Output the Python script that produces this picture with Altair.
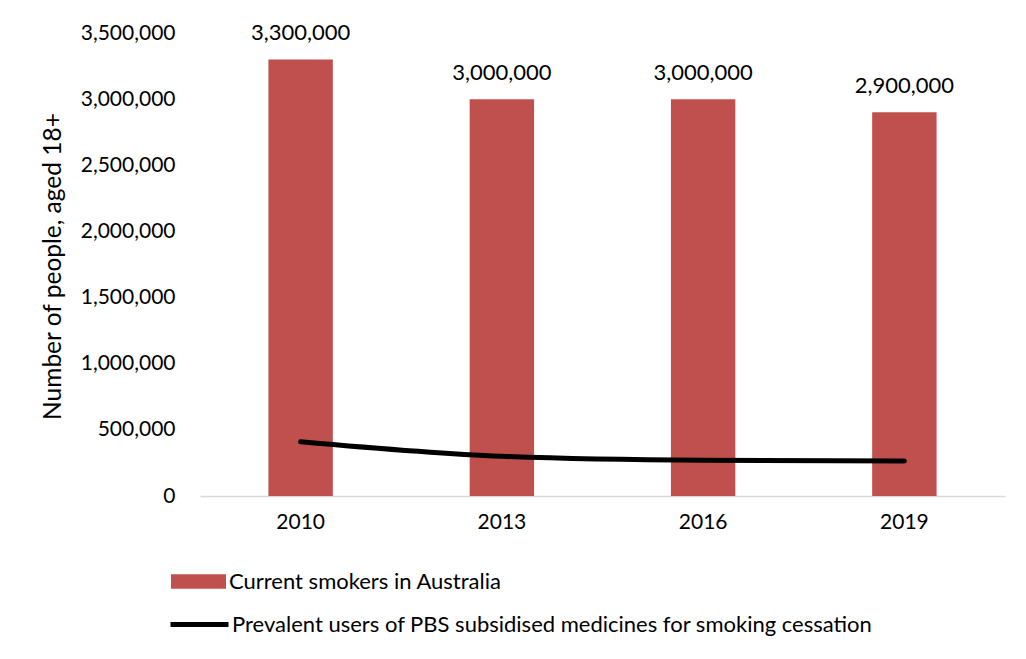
import altair as alt
import pandas as pd

years = ["2010", "2013", "2016", "2019"]
smokers = [3300000, 3000000, 3000000, 2900000]
pbs_users = [410000, 300000, 270000, 265000]
y_ticks = [0, 500000, 1000000, 1500000, 2000000, 2500000, 3000000, 3500000]

bar_name = "Current smokers in Australia"
line_name = "Prevalent users of PBS subsidised medicines for smoking cessation"

bars_df = pd.DataFrame({"year": years, "value": smokers, "series": bar_name})
line_df = pd.DataFrame({"year": years, "value": pbs_users, "series": line_name})

FONT = "Lato"

x_enc = alt.X(
    "year:O",
    title=None,
    scale=alt.Scale(paddingInner=0.68, paddingOuter=0.34),
    axis=alt.Axis(
        labelAngle=0, ticks=False, domainColor="#d9d9d9", domainWidth=1.5,
        labelFontSize=21, labelPadding=15, labelColor="#000000", labelFont=FONT,
    ),
)
y_enc = alt.Y(
    "value:Q",
    title="Number of people, aged 18+",
    scale=alt.Scale(domain=[0, 3500000], nice=False),
    axis=alt.Axis(
        values=y_ticks, format=",.0f", grid=False, ticks=False, domain=False,
        labelFontSize=21, labelPadding=25, labelColor="#000000", labelFont=FONT,
        titleFontSize=24.5, titleFontWeight="normal", titleColor="#000000", titleFont=FONT,
        titleX=-147, titleY=233, titleAngle=270, titleAlign="center", titleBaseline="middle",
    ),
)

bars = alt.Chart(bars_df).mark_bar().encode(
    x=x_enc,
    y=y_enc,
    fill=alt.Fill(
        "series:N",
        scale=alt.Scale(domain=[bar_name], range=["#c0504d"]),
        legend=alt.Legend(
            title=None, orient="none", legendX=-29, legendY=521,
            symbolType="M-1,-0.26H1V0.26H-1Z", symbolSize=3025, symbolOpacity=1,
            symbolStrokeWidth=0, labelFontSize=22, labelFont=FONT, labelColor="#000000",
            labelOffset=3, labelLimit=900,
        ),
    ),
)

labels = alt.Chart(bars_df).mark_text(
    baseline="alphabetic", dy=-19, fontSize=22, font=FONT, color="#000000"
).encode(
    x=x_enc,
    y=y_enc,
    text=alt.Text("value:Q", format=",.0f"),
)

line = alt.Chart(line_df).mark_line(
    strokeWidth=5, interpolate="monotone", strokeCap="round"
).encode(
    x=x_enc,
    y=y_enc,
    stroke=alt.Stroke(
        "series:N",
        scale=alt.Scale(domain=[line_name], range=["#000000"]),
        legend=alt.Legend(
            title=None, orient="none", legendX=-32, legendY=560,
            symbolType="stroke", symbolSize=3364, symbolStrokeWidth=5,
            labelFontSize=22, labelFont=FONT, labelColor="#000000",
            labelOffset=1, labelLimit=900,
        ),
    ),
)

chart = alt.layer(bars, labels, line).resolve_legend(fill="independent", stroke="independent").properties(
    width=805,
    height=463,
    autosize=alt.AutoSizeParams(type="none"),
    padding={"left": 192, "top": 25, "right": 13, "bottom": 155},
).configure_view(stroke=None)

chart.save("out.html", embed_options={"renderer": "svg", "actions": False})
